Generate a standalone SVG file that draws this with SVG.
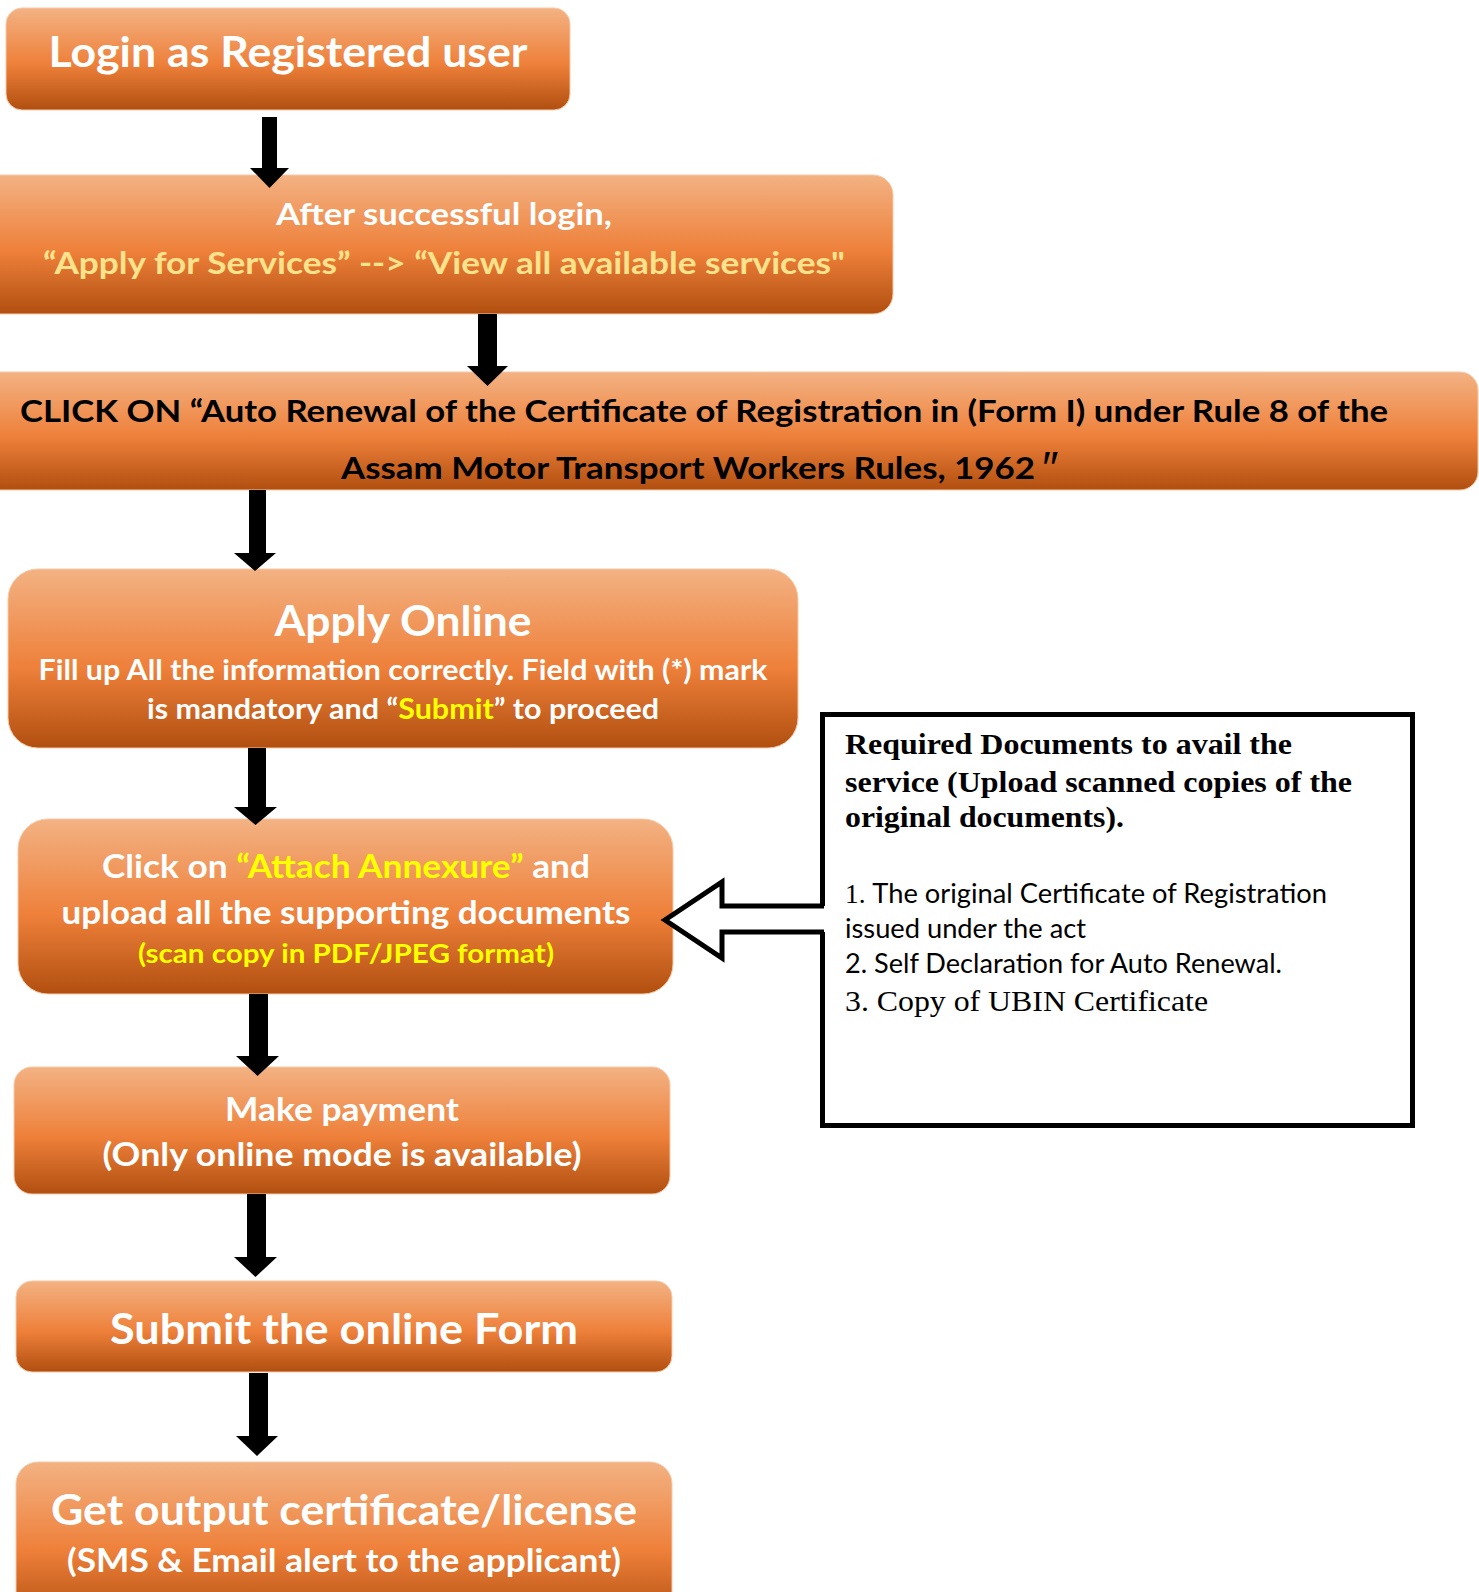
<svg xmlns="http://www.w3.org/2000/svg" width="1479" height="1592" viewBox="0 0 1479 1592">
<defs>
<linearGradient id="og" x1="0" y1="0" x2="0" y2="1">
<stop offset="0" stop-color="#F3B283"/>
<stop offset="0.55" stop-color="#EE803A"/>
<stop offset="1" stop-color="#B14F10"/>
</linearGradient>
<style>
.box{fill:url(#og);stroke:#F6C9A8;stroke-width:1}
.t{font-family:Lato,"Open Sans","Liberation Sans",sans-serif;font-weight:bold;fill:#FFFFFF;text-anchor:middle}
.k{font-family:Lato,"Open Sans","Liberation Sans",sans-serif;font-weight:bold;fill:#000000}
.q{font-family:"Liberation Sans",sans-serif;font-weight:normal;font-style:italic;fill:#000000}
.y{fill:#FFFF00}
.ly{fill:#FFE38C}
.arr{fill:#000000}
.ser{font-family:"Liberation Serif","Times New Roman",serif;fill:#000000}
.san{font-family:Lato,"Open Sans","Liberation Sans",sans-serif;fill:#000000}
</style>
</defs>

<g id="n1">
<rect class="box" x="6" y="8" width="564" height="102" rx="16"/>
<text class="t" x="288" y="67" font-size="42" textLength="479" lengthAdjust="spacingAndGlyphs">Login as Registered user</text>
</g>

<g id="n2">
<rect class="box" x="-20" y="175" width="913" height="139" rx="20"/>
<text class="t" x="444" y="225" font-size="31" textLength="336" lengthAdjust="spacingAndGlyphs">After successful login,</text>
<text class="t ly" x="444" y="274" font-size="31" textLength="802" lengthAdjust="spacingAndGlyphs">“Apply for Services” --&gt; “View all available services"</text>
</g>

<g id="n3">
<rect class="box" x="-20" y="372" width="1498" height="118" rx="18"/>
<text class="k" x="20" y="422" font-size="31" textLength="1368" lengthAdjust="spacingAndGlyphs">CLICK ON “Auto Renewal of the Certificate of Registration in (Form I) under Rule 8 of the</text>
<text class="k" x="341" y="479" font-size="31" textLength="694" lengthAdjust="spacingAndGlyphs">Assam Motor Transport Workers Rules, 1962</text>
<text class="q" x="1040" y="484" font-size="46">″</text>
</g>

<g id="n4">
<rect class="box" x="8" y="569" width="790" height="179" rx="30"/>
<text class="t" x="403" y="636" font-size="42" textLength="257" lengthAdjust="spacingAndGlyphs">Apply Online</text>
<text class="t" x="403" y="680" font-size="28" textLength="729" lengthAdjust="spacingAndGlyphs">Fill up All the information correctly. Field with (*) mark</text>
<text class="t" x="403" y="719" font-size="28" textLength="512" lengthAdjust="spacingAndGlyphs">is mandatory and “<tspan class="y">Submit</tspan>” to proceed</text>
</g>

<g id="n5">
<rect class="box" x="18" y="819" width="655" height="175" rx="30"/>
<text class="t" x="346" y="878" font-size="33" textLength="488" lengthAdjust="spacingAndGlyphs">Click on <tspan class="y">“Attach Annexure”</tspan> and</text>
<text class="t" x="346" y="924" font-size="33" textLength="569" lengthAdjust="spacingAndGlyphs">upload all the supporting documents</text>
<text class="t y" x="346" y="963" font-size="27" textLength="416" lengthAdjust="spacingAndGlyphs">(scan copy in PDF/JPEG format)</text>
</g>

<g id="n6">
<rect class="box" x="14" y="1067" width="656" height="127" rx="18"/>
<text class="t" x="342" y="1121" font-size="32" textLength="234" lengthAdjust="spacingAndGlyphs">Make payment</text>
<text class="t" x="342" y="1166" font-size="32" textLength="479" lengthAdjust="spacingAndGlyphs">(Only online mode is available)</text>
</g>

<g id="n7">
<rect class="box" x="16" y="1281" width="656" height="91" rx="16"/>
<text class="t" x="344" y="1344" font-size="42" textLength="468" lengthAdjust="spacingAndGlyphs">Submit the online Form</text>
</g>

<g id="n8">
<rect class="box" x="16" y="1462" width="656" height="160" rx="22"/>
<text class="t" x="344" y="1525" font-size="42" textLength="586" lengthAdjust="spacingAndGlyphs">Get output certificate/license</text>
<text class="t" x="344" y="1572" font-size="32" textLength="554" lengthAdjust="spacingAndGlyphs">(SMS &amp; Email alert to the applicant)</text>
</g>

<g id="docs">
<path d="M822.5,906 L822.5,714.5 L1412.5,714.5 L1412.5,1125.5 L822.5,1125.5 L822.5,932" fill="none" stroke="#000000" stroke-width="5"/>
<text class="ser" x="845" y="754" font-size="30" font-weight="bold" textLength="447" lengthAdjust="spacingAndGlyphs">Required Documents to avail the</text>
<text class="ser" x="845" y="792" font-size="30" font-weight="bold" textLength="507" lengthAdjust="spacingAndGlyphs">service (Upload scanned copies of the</text>
<text class="ser" x="845" y="827" font-size="30" font-weight="bold" textLength="279" lengthAdjust="spacingAndGlyphs">original documents).</text>
<text x="845" y="903" font-size="27" textLength="482" lengthAdjust="spacingAndGlyphs"><tspan class="ser">1. </tspan><tspan class="san">The original Certificate of Registration</tspan></text>
<text class="san" x="845" y="938" font-size="27" textLength="241" lengthAdjust="spacingAndGlyphs">issued under the act</text>
<text class="san" x="845" y="973" font-size="27" textLength="437" lengthAdjust="spacingAndGlyphs">2. Self Declaration for Auto Renewal.</text>
<text class="ser" x="845" y="1011" font-size="30" textLength="363" lengthAdjust="spacingAndGlyphs">3. Copy of UBIN Certificate</text>
</g>

<g id="connectors">
<polygon class="arr" points="262,117 277,117 277,168 289,168 269.5,188 250,168 262,168"/>
<polygon class="arr" points="478,314 497,314 497,366 508,366 487.5,386 467,366 478,366"/>
<polygon class="arr" points="249,490 266,490 266,553 276,553 255,571 234,553 249,553"/>
<polygon class="arr" points="248,748 266,748 266,807 277,807 255.5,825 234,807 248,807"/>
<polygon class="arr" points="249,994 268,994 268,1056 279,1056 257.5,1076 236,1056 249,1056"/>
<polygon class="arr" points="247,1194 266,1194 266,1257 277,1257 255.5,1277 234,1257 247,1257"/>
<polygon class="arr" points="249,1373 268,1373 268,1436 278,1436 257,1456 236,1436 249,1436"/>
<path d="M824,906 L722,906 L722,882 L665,920 L722,958 L722,932 L824,932" fill="#FFFFFF" stroke="#000000" stroke-width="5" stroke-linejoin="miter"/>
</g>
</svg>
